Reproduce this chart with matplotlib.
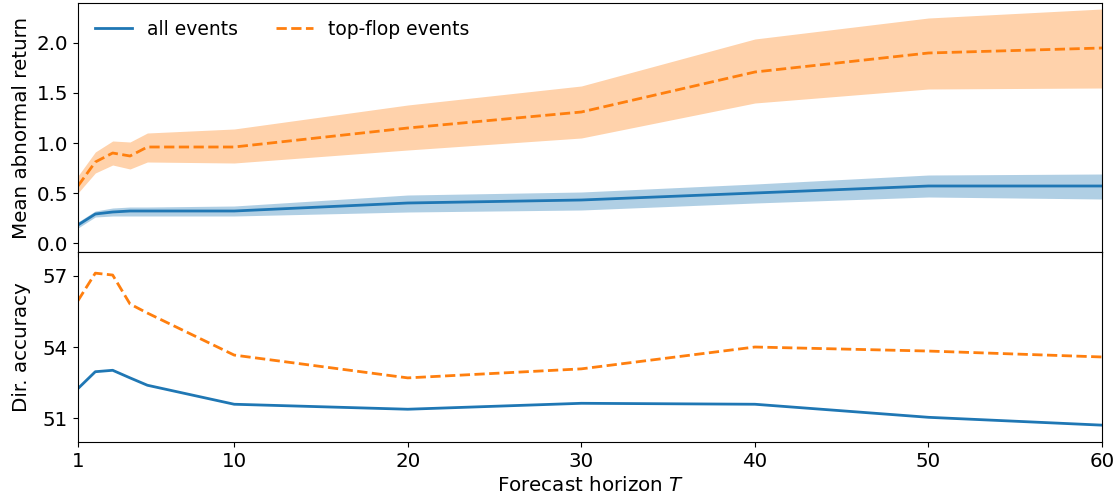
import matplotlib
matplotlib.use("Agg")
import matplotlib.pyplot as plt

horizons = [1, 2, 3, 4, 5, 10, 20, 30, 40, 50, 60]

# Mean abnormal return
all_mean = [0.18, 0.29, 0.31, 0.32, 0.32, 0.32, 0.40, 0.43, 0.50, 0.57, 0.57]
all_lo = [0.15, 0.26, 0.27, 0.27, 0.27, 0.27, 0.31, 0.33, 0.40, 0.46, 0.44]
all_hi = [0.21, 0.32, 0.35, 0.36, 0.36, 0.37, 0.48, 0.51, 0.59, 0.68, 0.69]

tf_mean = [0.57, 0.81, 0.90, 0.87, 0.96, 0.96, 1.15, 1.31, 1.71, 1.90, 1.95]
tf_lo = [0.50, 0.70, 0.78, 0.74, 0.81, 0.80, 0.93, 1.05, 1.40, 1.54, 1.55]
tf_hi = [0.67, 0.91, 1.02, 1.01, 1.10, 1.14, 1.38, 1.57, 2.04, 2.25, 2.34]

# Directional accuracy (%)
all_acc = [52.25, 52.96, 53.02, 52.70, 52.39, 51.59, 51.38, 51.63, 51.59, 51.04, 50.71]
tf_acc = [55.95, 57.11, 57.03, 55.81, 55.43, 53.66, 52.70, 53.08, 54.00, 53.83, 53.58]

FS = 14.3
LFS = 13.5
plt.rcParams['font.size'] = FS
blue = '#1f77b4'
orange = '#ff7f0e'

fig, (ax1, ax2) = plt.subplots(2, 1, sharex=True, figsize=(11.2, 4.99), dpi=100,
                               gridspec_kw={'height_ratios': [249, 190], 'hspace': 0})
fig.subplots_adjust(left=0.0696, right=0.984, top=0.994, bottom=0.1142)

ax1.fill_between(horizons, all_lo, all_hi, color=blue, alpha=0.35, linewidth=0)
ax1.fill_between(horizons, tf_lo, tf_hi, color=orange, alpha=0.35, linewidth=0)
ax1.plot(horizons, all_mean, color=blue, lw=2, label='all events')
ax1.plot(horizons, tf_mean, color=orange, lw=2, ls='--', label='top-flop events')
ax1.set_ylim(-0.09, 2.40)
ax1.set_yticks([0.0, 0.5, 1.0, 1.5, 2.0])
ax1.set_ylabel('Mean abnormal return', fontsize=FS)
ax1.legend(loc='upper left', ncol=2, frameon=False, fontsize=LFS)

ax2.plot(horizons, all_acc, color=blue, lw=2)
ax2.plot(horizons, tf_acc, color=orange, lw=2, ls='--')
ax2.set_ylim(50, 58)
ax2.set_yticks([51, 54, 57])
ax2.set_ylabel('Dir. accuracy', fontsize=FS)
ax2.set_xlim(1, 60)
ax2.set_xticks([1, 10, 20, 30, 40, 50, 60])
ax2.set_xlabel('Forecast horizon $T$', fontsize=FS)

for ax in (ax1, ax2):
    ax.tick_params(labelsize=FS)

fig.align_ylabels([ax1, ax2])
fig.savefig('out.png', dpi=100)
